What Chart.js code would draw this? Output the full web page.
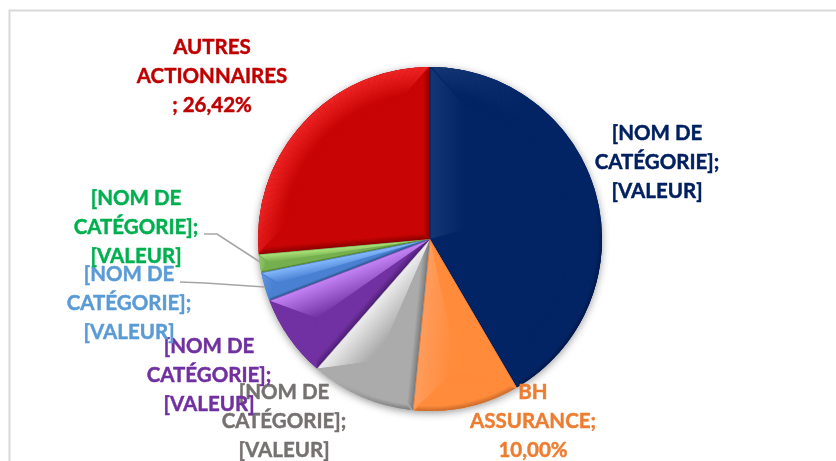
<!DOCTYPE html>
<html>
<head>
<meta charset="utf-8">
<style>
html,body{margin:0;padding:0;background:#fff;overflow:hidden}
#wrap{position:relative;width:836px;height:461px}
</style>
<script src="https://cdn.jsdelivr.net/npm/chart.js@4"></script>
</head>
<body>
<div id="wrap"><canvas id="c" width="836" height="461"></canvas></div>
<script>
const categories = ["[NOM DE CATÉGORIE]", "BH ASSURANCE", "[NOM DE CATÉGORIE]", "[NOM DE CATÉGORIE]", "[NOM DE CATÉGORIE]", "[NOM DE CATÉGORIE]", "AUTRES ACTIONNAIRES"];
const values = [41.58, 10.00, 9.85, 7.75, 2.70, 1.70, 26.42];
const sliceColors = ["#022465", "#FF8B3B", "#ABABAB", "#7231A2", "#4A80D2", "#76B04E", "#C90404"];
const lightColors = ["#143674", "#FF9C5C", "#EDEDED", "#C584F5", "#86BBFF", "#AEE67C", "#EE2424"];
const darkColors = ["#011848", "#C96A2A", "#7A7A7A", "#4E1F75", "#2C568F", "#4E7E33", "#8A0000"];
const labelColors = ["#002060", "#ED7D31", "#767171", "#7030A0", "#5B9BD5", "#00B050", "#C00000"];
const labelLines = [
  ["[NOM DE", "CATÉGORIE];", "[VALEUR]"],
  ["BH", "ASSURANCE;", "10,00%"],
  ["[NOM DE", "CATÉGORIE];", "[VALEUR]"],
  ["[NOM DE", "CATÉGORIE];", "[VALEUR]"],
  ["[NOM DE", "CATÉGORIE];", "[VALEUR]"],
  ["[NOM DE", "CATÉGORIE];", "[VALEUR]"],
  ["AUTRES", "ACTIONNAIRES", "; 26,42%"]
];
const labelX = [657, 533, 284, 209, 129, 136, 212];
const labelY = [133, 392, 392, 346, 274, 198, 47];
const leaderPaths = [
  [[204,234],[217,234],[260,262]],
  [[180,282],[205,283],[265,287]]
];

function bevel(ctx, el, i) {
  const {x, y, startAngle: a0, endAngle: a1, outerRadius: R} = el.getProps(['x','y','startAngle','endAngle','outerRadius'], true);
  const h = (a1 - a0) / 2, mid = a0 + h;
  const inr = h < Math.PI / 2 ? R * Math.sin(h) / (1 + Math.sin(h)) : R / 2;
  const w = Math.min(34, inr);
  const apex = [x + Math.cos(mid) * w / Math.sin(h), y + Math.sin(mid) * w / Math.sin(h)];
  const ri = R - w;
  const d0 = Math.asin(Math.min(1, w / ri));
  const ia0 = h > d0 ? a0 + d0 : mid, ia1 = h > d0 ? a1 - d0 : mid;
  const P = (r, a) => [x + Math.cos(a) * r, y + Math.sin(a) * r];
  const pO = P(R, a0), pE = P(R, a1), iS = P(ri, ia0), iE = P(ri, ia1);
  const LX = -0.62, LY = -0.78;
  ctx.save();
  ctx.beginPath();
  ctx.moveTo(x, y);
  ctx.arc(x, y, R, a0, a1);
  ctx.closePath();
  ctx.clip();

  const facet = (pts, nx, ny, fromX, fromY) => {
    const d = nx * LX + ny * LY;
    const g = ctx.createLinearGradient(fromX, fromY, fromX - nx * w, fromY - ny * w);
    if (d > 0.15) {
      g.addColorStop(0, lightColors[i]);
      g.addColorStop(1, sliceColors[i]);
    } else if (d < -0.45) {
      g.addColorStop(0, darkColors[i]);
      g.addColorStop(0.2, sliceColors[i]);
      g.addColorStop(1, sliceColors[i]);
    } else {
      g.addColorStop(0, sliceColors[i]);
      g.addColorStop(1, sliceColors[i]);
    }
    ctx.fillStyle = g;
    ctx.beginPath();
    pts.forEach((p, k) => k ? ctx.lineTo(p[0], p[1]) : ctx.moveTo(p[0], p[1]));
    ctx.closePath();
    ctx.fill();
  };
  facet([[x,y], pO, iS, apex], Math.cos(a0 - Math.PI/2), Math.sin(a0 - Math.PI/2), x, y);
  facet([[x,y], pE, iE, apex], Math.cos(a1 + Math.PI/2), Math.sin(a1 + Math.PI/2), x, y);

  // rim: base fill, then overlays whose strength follows the direction of the light
  const rimPath = (b0, b1, c0, c1) => {
    const a = P(R + 2, b0), b = P(R + 2, b1), c = P(ri, c1), e = P(ri, c0);
    ctx.beginPath();
    ctx.moveTo(a[0], a[1]); ctx.lineTo(b[0], b[1]); ctx.lineTo(c[0], c[1]); ctx.lineTo(e[0], e[1]);
    ctx.closePath();
  };
  const steps = Math.max(2, Math.ceil((a1 - a0) / 0.04));
  for (let k = 0; k < steps; k++) {
    const b0 = a0 + (a1 - a0) * k / steps, b1 = a0 + (a1 - a0) * (k + 1) / steps;
    const c0 = ia0 + (ia1 - ia0) * k / steps, c1 = ia0 + (ia1 - ia0) * (k + 1) / steps;
    ctx.fillStyle = sliceColors[i];
    rimPath(b0, b1 + 0.006, c0, c1 + 0.006);
    ctx.fill();
  }
  for (let k = 0; k < steps; k++) {
    const b0 = a0 + (a1 - a0) * k / steps, b1 = a0 + (a1 - a0) * (k + 1) / steps;
    const c0 = ia0 + (ia1 - ia0) * k / steps, c1 = ia0 + (ia1 - ia0) * (k + 1) / steps;
    const bm = (b0 + b1) / 2;
    const d = Math.cos(bm) * LX + Math.sin(bm) * LY;
    const isLight = d > 0;
    const alpha = isLight ? Math.min(1, Math.max(0, (d - 0.3) / 0.45)) : Math.min(1, Math.max(0, (-d - 0.3) / 0.4));
    if (alpha <= 0) continue;
    const col = isLight ? lightColors[i] : darkColors[i];
    const g = ctx.createRadialGradient(x, y, ri, x, y, R);
    g.addColorStop(0, col + '00');
    g.addColorStop(isLight ? 0.25 : 0.85, col + '00');
    g.addColorStop(1, col);
    ctx.fillStyle = g;
    ctx.globalAlpha = alpha;
    rimPath(b0, b1, c0, c1);
    ctx.fill();
  }
  ctx.globalAlpha = 0.55;
  ctx.strokeStyle = darkColors[i];
  ctx.lineWidth = 1.4;
  ctx.beginPath();
  ctx.moveTo(pO[0], pO[1]); ctx.lineTo(x, y); ctx.lineTo(pE[0], pE[1]);
  ctx.stroke();
  ctx.restore();
}

const decorPlugin = {
  id: 'decor',
  beforeDraw(chart) {
    const ctx = chart.ctx;
    ctx.save();
    ctx.strokeStyle = '#D9D9D9';
    ctx.lineWidth = 2;
    ctx.beginPath();
    ctx.moveTo(9.5, 461);
    ctx.lineTo(9.5, 10.5);
    ctx.lineTo(836, 10.5);
    ctx.stroke();
    ctx.restore();
  },
  beforeDatasetsDraw(chart) {
    const ctx = chart.ctx, el = chart.getDatasetMeta(0).data[0];
    ctx.save();
    ctx.shadowColor = 'rgba(0,0,0,0.45)';
    ctx.shadowBlur = 9;
    ctx.shadowOffsetX = 0;
    ctx.shadowOffsetY = 2;
    ctx.fillStyle = '#fff';
    ctx.beginPath();
    ctx.arc(el.x, el.y, el.outerRadius - 0.5, 0, Math.PI * 2);
    ctx.fill();
    ctx.restore();
  },
  afterDatasetsDraw(chart) {
    const ctx = chart.ctx, meta = chart.getDatasetMeta(0);
    meta.data.forEach((el, i) => bevel(ctx, el, i));
    ctx.save();
    ctx.strokeStyle = '#A6A6A6';
    ctx.lineWidth = 1.6;
    leaderPaths.forEach(path => {
      ctx.beginPath();
      path.forEach((p, k) => k ? ctx.lineTo(p[0], p[1]) : ctx.moveTo(p[0], p[1]));
      ctx.stroke();
    });
    ctx.font = 'bold 20.5px Lato';
    ctx.textAlign = 'center';
    ctx.textBaseline = 'middle';
    ctx.lineWidth = 0.45;
    ctx.lineJoin = 'round';
    labelLines.forEach((lines, i) => {
      ctx.fillStyle = labelColors[i];
      ctx.strokeStyle = labelColors[i];
      lines.forEach((t, k) => {
        ctx.fillText(t, labelX[i], labelY[i] + k * 29.3);
        ctx.strokeText(t, labelX[i], labelY[i] + k * 29.3);
      });
    });
    ctx.restore();
  }
};

new Chart(document.getElementById('c'), {
  type: 'pie',
  data: {
    labels: categories,
    datasets: [{ data: values, backgroundColor: sliceColors, borderWidth: 0 }]
  },
  options: {
    responsive: false,
    animation: false,
    rotation: 0,
    layout: { padding: { top: 67, bottom: 50, left: 258, right: 234 } },
    plugins: { legend: { display: false }, tooltip: { enabled: false }, title: { display: false } },
    events: []
  },
  plugins: [decorPlugin]
});
</script>
</body>
</html>
